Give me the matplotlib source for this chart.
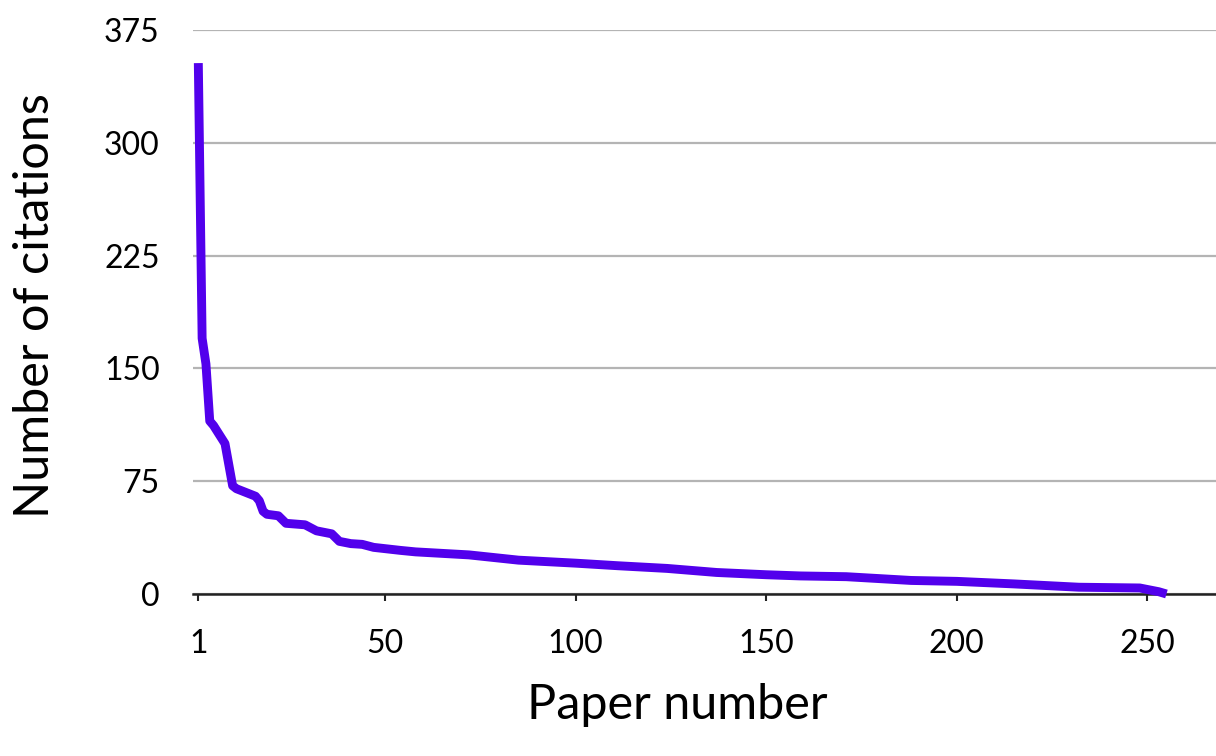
import numpy as np
from matplotlib import pyplot as plt

# paper number vs citations (papers sorted by citations)
paper = [1, 2, 3, 4, 5, 6, 7, 8, 10, 11, 14, 16, 17, 18, 19, 22, 24, 29, 32, 36,
         38, 41, 44, 47, 54, 58, 72, 85, 100, 111, 124, 137, 150, 159, 171, 188,
         200, 215, 232, 248, 251, 253, 255]
citations = [353, 170, 153, 115, 112, 108, 104, 100, 72, 70, 67, 65, 62, 55, 53, 52,
             47, 46, 42, 40, 35, 33.5, 33, 31, 29, 28, 26, 22.5, 20.5, 18.8, 17,
             14.3, 12.8, 12, 11.5, 9, 8.4, 6.7, 4.5, 4, 2.5, 1.5, 0]

xticks = [1, 50, 100, 150, 200, 250]
yticks = [0, 75, 150, 225, 300, 375]

plt.rcParams['font.family'] = ['Lato', 'DejaVu Sans']

fig = plt.figure(figsize=(12.16, 7.56), dpi=100)
ax = fig.add_axes([0.1587, 0.2143, 0.8413, 0.746])

ax.plot(paper, citations, color='#5200ec', lw=6.4, solid_joinstyle='round',
        solid_capstyle='butt', clip_on=False, zorder=3)

ax.set_xlim(-0.4, 268)
ax.set_ylim(0, 375)
ax.set_xticks(xticks)
ax.set_yticks(yticks)
ax.yaxis.grid(True, color='#b4b4b4', lw=1.6)
ax.set_axisbelow(True)

for s in ['top', 'right', 'left']:
    ax.spines[s].set_visible(False)
ax.spines['bottom'].set_color('#222222')
ax.spines['bottom'].set_linewidth(1.8)

ax.tick_params(axis='y', length=0, pad=24, labelsize=23)
ax.tick_params(axis='x', length=5, width=1.5, color='#222222', pad=20, labelsize=23)

ax.set_xlabel('Paper number', fontsize=35)
ax.xaxis.set_label_coords(0.473, -0.197)
ax.xaxis.label.set_va('center')
ax.set_ylabel('Number of citations', fontsize=35)
ax.yaxis.set_label_coords(-0.154, 0.512)
ax.yaxis.label.set_va('center')

fig.savefig('out.png', dpi=100)
